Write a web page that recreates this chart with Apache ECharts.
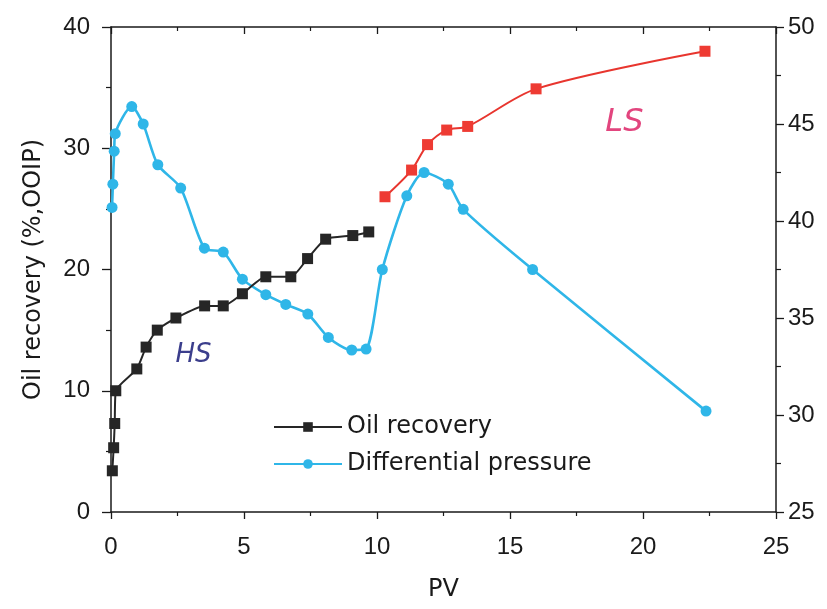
<!DOCTYPE html>
<html>
<head>
<meta charset="utf-8">
<script src="https://cdn.jsdelivr.net/npm/echarts@6/dist/echarts.min.js"></script>
<style>
  html, body { margin: 0; padding: 0; background: #fff; }
  #chart { width: 827px; height: 609px; }
</style>
</head>
<body>
<div id="chart"></div>
<script>
// Oil recovery during high-salinity (HS) flooding, % OOIP
const hsPV = [0.05, 0.1, 0.14, 0.18, 0.97, 1.32, 1.74, 2.44, 3.52, 4.22, 4.94, 5.82, 6.76, 7.39, 8.07, 9.09, 9.69];
const hsRecovery = [3.4, 5.3, 7.3, 10.0, 11.8, 13.6, 15.0, 16.0, 17.0, 17.0, 18.0, 19.4, 19.4, 20.9, 22.5, 22.8, 23.1];

// Oil recovery during the following low-salinity (LS) flooding, % OOIP
const lsPV = [10.3, 11.3, 11.9, 12.62, 13.41, 15.98, 22.33];
const lsRecovery = [26.0, 28.2, 30.3, 31.5, 31.8, 34.9, 38.0];

// Differential pressure across the core (right axis)
const dpPV = [0.04, 0.07, 0.12, 0.16, 0.78, 1.21, 1.76, 2.62, 3.51, 4.22, 4.94, 5.82, 6.57, 7.4, 8.17, 9.05, 9.59, 10.2, 11.12, 11.77, 12.68, 13.24, 15.85, 22.37];
const dpValues = [40.7, 41.9, 43.6, 44.5, 45.9, 45.0, 42.9, 41.7, 38.6, 38.4, 37.0, 36.2, 35.7, 35.2, 34.0, 33.35, 33.4, 37.5, 41.3, 42.5, 41.9, 40.6, 37.5, 30.2];

// Axis ranges and tick steps
const pvRange = [0, 25, 5];
const recoveryRange = [0, 40, 10];
const pressureRange = [25, 50, 5];

// Hand-written phase labels: [text, pv, recovery]
const phaseNotes = [['HS', 3.1, 12.9], ['LS', 19.3, 32.1]];

const zip = (xs, ys) => xs.map((x, i) => [x, ys[i]]);

const NUM_FONT = 'Liberation Sans';
const TEXT_FONT = 'DejaVu Sans';
const INK = '#1a1a1a';
const axisLine = { show: true, onZero: false, lineStyle: { color: INK, width: 1.5 } };
const tickLabel = { fontFamily: NUM_FONT, fontSize: 24, color: INK };

const chart = echarts.init(document.getElementById('chart'), null, { renderer: 'canvas' });

chart.setOption({
  animation: false,
  backgroundColor: '#ffffff',
  grid: { left: 111, right: 51, top: 27, bottom: 97, containLabel: false },
  legend: {
    orient: 'vertical',
    left: 268,
    top: 410,
    itemWidth: 68,
    itemHeight: 12,
    itemGap: 13,
    data: ['Oil recovery', 'Differential pressure'],
    textStyle: { fontFamily: TEXT_FONT, fontSize: 24, color: INK }
  },
  xAxis: [
    {
      type: 'value',
      min: pvRange[0], max: pvRange[1], interval: pvRange[2],
      position: 'bottom',
      name: 'PV',
      nameLocation: 'middle',
      nameGap: 66,
      nameTextStyle: { fontFamily: TEXT_FONT, fontSize: 24, color: INK },
      axisLine,
      axisTick: { show: true, length: 7, lineStyle: { color: INK, width: 1.3 } },
      minorTick: { show: true, splitNumber: 2, length: 4, lineStyle: { color: INK, width: 1.2 } },
      axisLabel: Object.assign({ margin: 23 }, tickLabel),
      splitLine: { show: false }
    },
    {
      type: 'value',
      min: pvRange[0], max: pvRange[1], interval: pvRange[2],
      position: 'top',
      axisLine,
      axisTick: { show: true, inside: true, length: 7, lineStyle: { color: INK, width: 1.3 } },
      minorTick: { show: true, splitNumber: 2, length: 4, lineStyle: { color: INK, width: 1.2 } },
      axisLabel: { show: false },
      splitLine: { show: false }
    }
  ],
  yAxis: [
    {
      type: 'value',
      min: recoveryRange[0], max: recoveryRange[1], interval: recoveryRange[2],
      position: 'left',
      name: 'Oil recovery (%,OOIP)',
      nameLocation: 'middle',
      nameGap: 65,
      nameTextStyle: { fontFamily: TEXT_FONT, fontSize: 24, color: INK },
      axisLine,
      axisTick: { show: true, length: 9, lineStyle: { color: INK, width: 1.3 } },
      minorTick: { show: true, splitNumber: 2, length: 5, lineStyle: { color: INK, width: 1.2 } },
      axisLabel: Object.assign({ margin: 21 }, tickLabel),
      splitLine: { show: false }
    },
    {
      type: 'value',
      min: pressureRange[0], max: pressureRange[1], interval: pressureRange[2],
      position: 'right',
      axisLine,
      axisTick: { show: true, length: 8, lineStyle: { color: INK, width: 1.3 } },
      minorTick: { show: true, splitNumber: 2, length: 5, lineStyle: { color: INK, width: 1.2 } },
      axisLabel: Object.assign({ margin: 12 }, tickLabel),
      splitLine: { show: false }
    }
  ],
  series: [
    {
      name: 'Differential pressure',
      type: 'line',
      xAxisIndex: 0,
      yAxisIndex: 1,
      data: zip(dpPV, dpValues),
      smooth: 0.25,
      symbol: 'circle',
      symbolSize: 11,
      lineStyle: { color: '#2fb6e8', width: 2.6 },
      itemStyle: { color: '#2fb6e8' },
      z: 2
    },
    {
      name: 'Oil recovery',
      type: 'line',
      xAxisIndex: 0,
      yAxisIndex: 0,
      data: zip(hsPV, hsRecovery),
      smooth: 0.2,
      symbol: 'rect',
      symbolSize: 11,
      lineStyle: { color: '#262626', width: 2 },
      itemStyle: { color: '#262626' },
      z: 3,
      markPoint: {
        symbol: 'circle',
        symbolSize: 1,
        itemStyle: { color: 'rgba(0,0,0,0)' },
        label: { show: true, position: 'inside', fontStyle: 'italic', fontFamily: TEXT_FONT },
        data: [
          {
            coord: [phaseNotes[0][1], phaseNotes[0][2]],
            label: { formatter: phaseNotes[0][0], color: '#3b3e8c', fontSize: 26 }
          }
        ]
      }
    },
    {
      name: 'LS recovery',
      type: 'line',
      xAxisIndex: 0,
      yAxisIndex: 0,
      data: zip(lsPV, lsRecovery),
      smooth: 0.3,
      symbol: 'rect',
      symbolSize: 11,
      lineStyle: { color: '#e8352e', width: 2 },
      itemStyle: { color: '#ee3b33' },
      z: 3,
      markPoint: {
        symbol: 'circle',
        symbolSize: 1,
        itemStyle: { color: 'rgba(0,0,0,0)' },
        label: { show: true, position: 'inside', fontStyle: 'italic', fontFamily: TEXT_FONT },
        data: [
          {
            coord: [phaseNotes[1][1], phaseNotes[1][2]],
            label: { formatter: phaseNotes[1][0], color: '#e2457e', fontSize: 32 }
          }
        ]
      }
    }
  ]
});
</script>
</body>
</html>
